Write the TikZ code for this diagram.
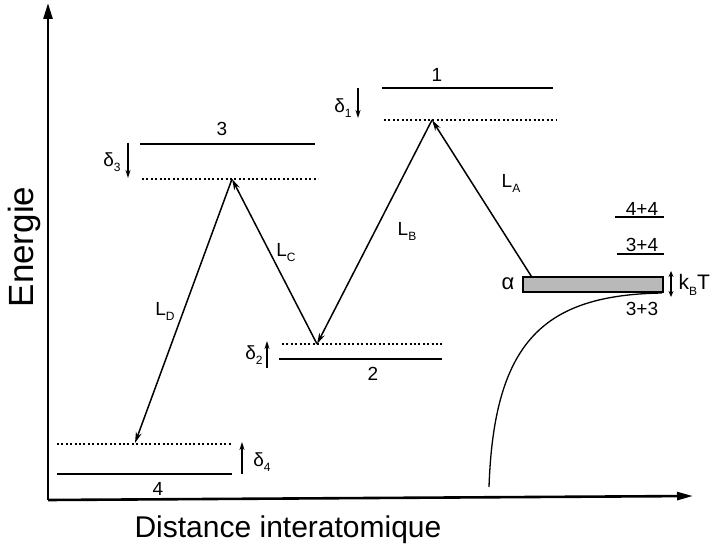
\documentclass[tikz,border=0pt]{standalone}
\usepackage{fontspec}
\setmainfont{Liberation Sans}
\usetikzlibrary{arrows.meta,positioning,calc}
\newcommand{\lo}[1]{\raisebox{-0.5ex}{\fontsize{12}{13}\selectfont #1}}

\begin{document}
\begin{tikzpicture}[x=1pt,y=-1pt,font=\fontsize{19}{22}\selectfont]
    \tikzstyle{lvl}=[line width=1.8pt]
    \tikzstyle{dlvl}=[line width=1.8pt,dash pattern=on 2pt off 2.4pt]
    \tikzstyle{tr}=[line width=1.5pt,-{Stealth[length=11pt,width=6pt]}]
    \tikzstyle{darr}=[line width=1.5pt,-{Stealth[length=8pt,width=5pt]}]
    \tikzstyle{big}=[font=\fontsize{30}{36}\selectfont]
    \useasboundingbox (0,0) rectangle (714,556);
    % axes
    \coordinate (o)    at (48,500);
    \coordinate (ytop) at (48,3);
    \coordinate (xend) at (693,496);
    \draw[line width=2.6pt,-{Triangle[length=16pt,width=9pt]}] (o) -- (ytop);
    \draw[line width=2.6pt,-{Triangle[length=16pt,width=8pt]}] (o) -- (xend);
    \node[big,rotate=90,font=\fontsize{35}{40}\selectfont] (ener) at (24,247) {Energie};
    \node[big] (dist) at (288,530) {Distance interatomique};
    % levels
    \draw[lvl]  (140,144) -- (315,144);
    \draw[dlvl] (142,179) -- (318,179);
    \draw[lvl]  (382,88)  -- (553,88);
    \draw[dlvl] (384,120) -- (557,120);
    \draw[dlvl] (282,344) -- (442,344);
    \draw[lvl]  (279,359) -- (442,359);
    \draw[dlvl] (57,444)  -- (232,444);
    \draw[lvl]  (57,474)  -- (232,474);
    \node (n3) at (222,129) {3};
    \node (n1) at (437,75)  {1};
    \node (n2) at (373,374) {2};
    \node (n4) at (158,489) {4};
    % shifts
    \draw[darr] (128,143) -- (128,178);
    \draw[darr] (358,88)  -- (358,118);
    \draw[darr] (267,368) -- (267,341);
    \draw[darr] (242,474) -- (242,442);
    \node (d3) at (112,162) {δ\lo{3}};
    \node (d1) at (343,108) {δ\lo{1}};
    \node (d2) at (254,355) {δ\lo{2}};
    \node (d4) at (262,462) {δ\lo{4}};
    % alpha band
    \node[draw,fill=gray!55,line width=1.2pt,inner sep=0pt,minimum width=140pt,minimum height=15pt] (band) at (593,284.5) {};
    \node[font=\fontsize{22}{24}\selectfont] (al) at (508,284) {α};
    \draw[line width=1.3pt,{Stealth[length=6pt,width=5pt]}-{Stealth[length=6pt,width=5pt]}] (671,271) -- (671,297);
    \node[font=\fontsize{21}{24}\selectfont,anchor=west] (kt) at (675,285) {k\lo{B}T};
    \node[font=\fontsize{19}{22}\selectfont] (s44) at (642,209) {4+4};
    \node[font=\fontsize{19}{22}\selectfont] (s34) at (642,245) {3+4};
    \node[font=\fontsize{19}{22}\selectfont] (s33) at (642,309) {3+3};
    \draw[line width=1.3pt] (615,217) -- (664,217);
    \draw[line width=1.3pt] (617,254) -- (664,254);
    \draw[line width=1.3pt] (489,487) .. controls (494,340) and (545,295) .. (662,293);
    % transitions
    \coordinate (a0) at ($(band.north west)+(9,0)$);
    \coordinate (p1) at (432,120);
    \coordinate (p2) at (317,344);
    \coordinate (p3) at (232,179);
    \coordinate (p4) at (135,443);
    \foreach \a/\b in {a0/p1,p1/p2,p2/p3,p3/p4} \draw[tr] (\a) -- (\b);
    \node (la) at (511,183) {L\lo{A}};
    \node (lb) at (407,231) {L\lo{B}};
    \node (lc) at (286,253) {L\lo{C}};
    \node (ld) at (165,311) {L\lo{D}};
\end{tikzpicture}
\end{document}
